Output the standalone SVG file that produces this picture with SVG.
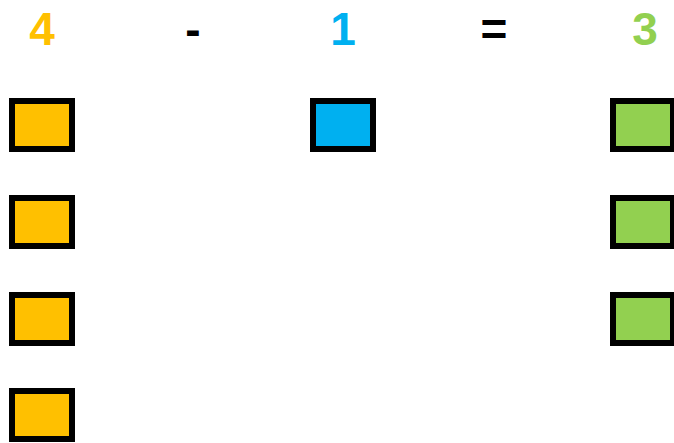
<svg xmlns="http://www.w3.org/2000/svg" width="674" height="443" viewBox="0 0 674 443">
<style>
.t{font-family:"Liberation Sans",Arial,sans-serif;font-weight:bold;font-size:46px;text-anchor:middle}
.b{stroke:#000;stroke-width:6}
.o{fill:#FFC000}.bl{fill:#00B0F0}.g{fill:#92D050}
</style>
<rect width="674" height="443" fill="#fff"/>
<g id="labels">
<text class="t" x="42" y="45" fill="#FFC000">4</text>
<text class="t" x="193" y="45" fill="#000">-</text>
<text class="t" x="343" y="45" fill="#00B0F0">1</text>
<text class="t" x="494" y="45" fill="#000">=</text>
<text class="t" x="645" y="45" fill="#92D050">3</text>
</g>
<g id="orange1"><rect class="b o" x="12" y="101" width="60" height="48"/></g>
<g id="orange2"><rect class="b o" x="12" y="198" width="60" height="48"/></g>
<g id="orange3"><rect class="b o" x="12" y="295" width="60" height="48"/></g>
<g id="orange4"><rect class="b o" x="12" y="391" width="60" height="48"/></g>
<g id="blue1"><rect class="b bl" x="313" y="101" width="60" height="48"/></g>
<g id="green1"><rect class="b g" x="613" y="101" width="60" height="48"/></g>
<g id="green2"><rect class="b g" x="613" y="198" width="60" height="48"/></g>
<g id="green3"><rect class="b g" x="613" y="295" width="60" height="48"/></g>
<g id="connectors"></g>
</svg>
